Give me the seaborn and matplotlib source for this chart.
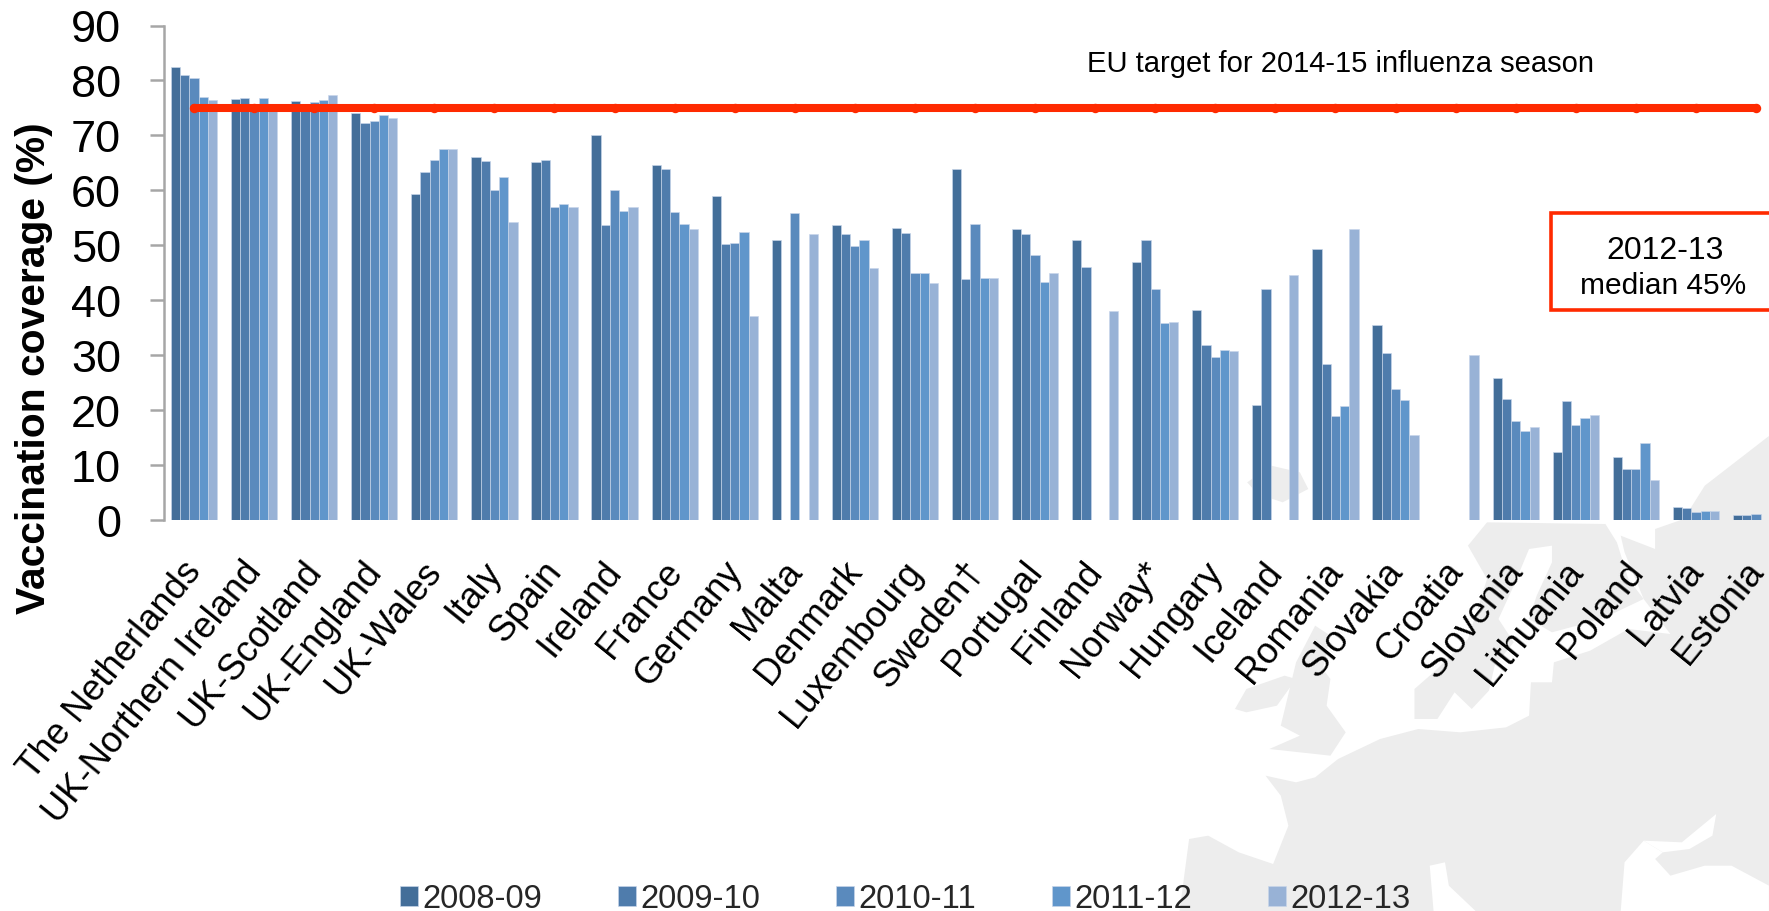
import numpy as np
import pandas as pd
import matplotlib.pyplot as plt
from matplotlib.patches import Polygon, Rectangle
from matplotlib.transforms import ScaledTranslation
import seaborn as sns

nan = np.nan

countries = ['The Netherlands', 'UK-Northern Ireland', 'UK-Scotland', 'UK-England', 'UK-Wales',
             'Italy', 'Spain', 'Ireland', 'France', 'Germany', 'Malta', 'Denmark', 'Luxembourg',
             'Sweden†', 'Portugal', 'Finland', 'Norway*', 'Hungary', 'Iceland', 'Romania',
             'Slovakia', 'Croatia', 'Slovenia', 'Lithuania', 'Poland', 'Latvia', 'Estonia']

s2008 = [82.4, 76.7, 76.2, 74.0, 59.4, 66.0, 65.1, 70.0, 64.7, 59.0, 51.0, 53.6, 53.2,
         63.9, 52.9, 51.0, 46.9, 38.3, 21.0, 49.3, 35.4, nan, 25.9, 12.4, 11.4, 2.3, 1.0]
s2009 = [81.0, 76.8, 75.5, 72.2, 63.4, 65.4, 65.6, 53.6, 63.9, 50.2, nan, 52.0, 52.2,
         43.8, 52.1, 46.0, 51.0, 31.8, 42.0, 28.4, 30.4, nan, 22.1, 21.6, 9.2, 2.1, 1.0]
s2010 = [80.5, 75.5, 76.0, 72.7, 65.6, 60.0, 56.9, 60.0, 56.0, 50.5, 55.9, 49.8, 44.9,
         53.8, 48.3, nan, 42.0, 29.7, nan, 19.0, 23.8, nan, 18.0, 17.3, 9.2, 1.4, 1.1]
s2011 = [77.0, 76.8, 76.4, 73.8, 67.6, 62.5, 57.6, 56.2, 53.8, 52.5, nan, 51.0, 44.9,
         44.0, 43.3, nan, 35.9, 31.0, nan, 20.8, 21.9, nan, 16.2, 18.5, 14.1, 1.7, nan]
s2012 = [76.4, 75.0, 77.3, 73.2, 67.6, 54.2, 56.9, 56.9, 53.0, 37.1, 52.0, 45.9, 43.1,
         44.0, 44.9, 38.0, 36.0, 30.8, 44.6, 52.9, 15.4, 30.0, 16.9, 19.2, 7.3, 1.7, nan]

seasons = ['2008-09', '2009-10', '2010-11', '2011-12', '2012-13']
colors = ['#436E99', '#4F7CAC', '#5A8ABD', '#6096CB', '#98B2D6']
target = [75] * len(countries)
yticks = [0, 10, 20, 30, 40, 50, 60, 70, 80, 90]

df = pd.DataFrame({'country': countries, '2008-09': s2008, '2009-10': s2009, '2010-11': s2010,
                   '2011-12': s2011, '2012-13': s2012})
df = df.melt(id_vars='country', var_name='season', value_name='coverage')

W, H = 1769, 912
RED = '#FF2A00'
GREY = '#A6A6A6'

sns.set_style('white')
plt.rcParams['font.family'] = ['Liberation Sans', 'DejaVu Sans']

fig = plt.figure(figsize=(W / 100, H / 100), dpi=100)
ax = fig.add_axes([164 / W, 1 - 521 / H, 1622 / W, 494.5 / H])
ax.patch.set_alpha(0)


def crop_poly(pts, color):
    xy = [((1170 + x / 2.618) / W, 1 - (520 + y / 3) / H) for x, y in pts]
    fig.add_artist(Polygon(xy, closed=True, transform=fig.transFigure, fc=color, ec='none', zorder=-5))


land = '#EDEDED'
# mainland and Russia
crop_poly([(25, 1176), (50, 960), (100, 950), (180, 1000), (270, 1035), (310, 920), (290, 830), (250, 770),
           (330, 790), (380, 775), (440, 720), (550, 660), (650, 630), (760, 640), (880, 625), (940, 590),
           (945, 490), (1000, 490), (1005, 430), (1100, 395), (1200, 330), (1310, 345), (1240, 240), (1190, 100),
           (1180, 50), (1270, 90), (1270, 30), (1345, 0), (1400, -100), (1568, -249), (1568, 1176)], land)
# Scandinavia and Finland
crop_poly([(640, 600), (640, 510), (690, 460), (780, 360), (830, 180), (780, 80), (830, 10), (1140, 15),
           (1170, 70), (1200, 180), (1240, 240), (1130, 300), (1000, 340), (940, 300), (960, 230), (1000, 130),
           (1000, 80), (940, 90), (900, 200), (860, 300), (900, 370), (850, 440), (835, 515), (790, 570),
           (745, 520), (700, 600)], land)
# UK, Ireland, Iceland
crop_poly([(290, 620), (330, 430), (380, 320), (420, 350), (400, 450), (420, 480), (410, 560), (460, 640),
           (420, 710), (260, 690), (340, 650)], land)
crop_poly([(170, 570), (200, 510), (300, 470), (330, 480), (280, 560), (200, 580)], land)
crop_poly([(202, -110), (265, -160), (340, -140), (362, -90), (295, -50), (230, -75)], land)
# seas in the south
crop_poly([(680, 1040), (720, 1030), (730, 1100), (800, 1176), (690, 1176)], 'white')
crop_poly([(1180, 1176), (1190, 1030), (1240, 965), (1290, 1000), (1270, 1020), (1310, 1070), (1400, 1040),
           (1470, 1040), (1568, 1100), (1568, 1176)], 'white')
crop_poly([(1240, 965), (1340, 970), (1430, 885), (1420, 950), (1360, 990), (1290, 1000)], 'white')

# Plot
sns.barplot(data=df, x='country', y='coverage', hue='season', order=countries, hue_order=seasons,
            palette=colors, saturation=1, width=0.77, gap=0, errorbar=None,
            edgecolor='#C9D6EA', linewidth=0.45, ax=ax)
sns.lineplot(x=countries, y=target, color=RED, linewidth=5.8, marker='o', markersize=6.8,
             markeredgewidth=0, solid_capstyle='round', legend=False, ax=ax, zorder=5)

# Decorations
ax.set_xlim(-0.5, 26.5)
ax.set_ylim(0, 90)
ax.set_yticks(yticks)
ax.tick_params(axis='y', length=10, width=1.8, color=GREY, pad=21, labelsize=32.5, left=True, labelcolor='black')
ax.tick_params(axis='x', length=0, pad=30, labelcolor='black')
plt.setp(ax.get_xticklabels(), rotation=51, ha='right', rotation_mode='anchor', fontsize=26.2, va='center')
shift = ScaledTranslation(1 / 100, -3 / 100, fig.dpi_scale_trans)
for lab in ax.get_xticklabels():
    lab.set_transform(lab.get_transform() + shift)
ax.set_xlabel('')
ax.set_ylabel('Vaccination coverage (%)', fontsize=29.3, fontweight='bold', color='black', va='center')
ax.yaxis.set_label_coords((34 - 164) / 1622, (521 - 368) / 494.5)
for side in ['top', 'right', 'bottom']:
    ax.spines[side].set_visible(False)
ax.spines['left'].set_color(GREY)
ax.spines['left'].set_linewidth(1.8)

sns.move_legend(ax, 'center left', bbox_to_anchor=(400 / W, 1 - 900 / H), bbox_transform=fig.transFigure,
                ncol=5, frameon=False, title=None, fontsize=23.6, handlelength=0.55, handleheight=0.55,
                handletextpad=0.12, columnspacing=2.33, borderpad=0, borderaxespad=0)

fig.text(1340 / W, 1 - 64 / H, 'EU target for 2014-15 influenza season', fontsize=21,
         ha='center', va='center', color='black')
fig.add_artist(Rectangle((1551 / W, 1 - 311 / H), 260 / W, 97 / H, transform=fig.transFigure,
                         fc='white', ec=RED, lw=2.6, zorder=6))
fig.text(1665 / W, 1 - 251 / H, '2012-13', fontsize=23, ha='center', va='center', color='black', zorder=7)
fig.text(1663 / W, 1 - 286 / H, 'median 45%', fontsize=21.5, ha='center', va='center', color='black', zorder=7)

fig.savefig('out.png', dpi=100)
